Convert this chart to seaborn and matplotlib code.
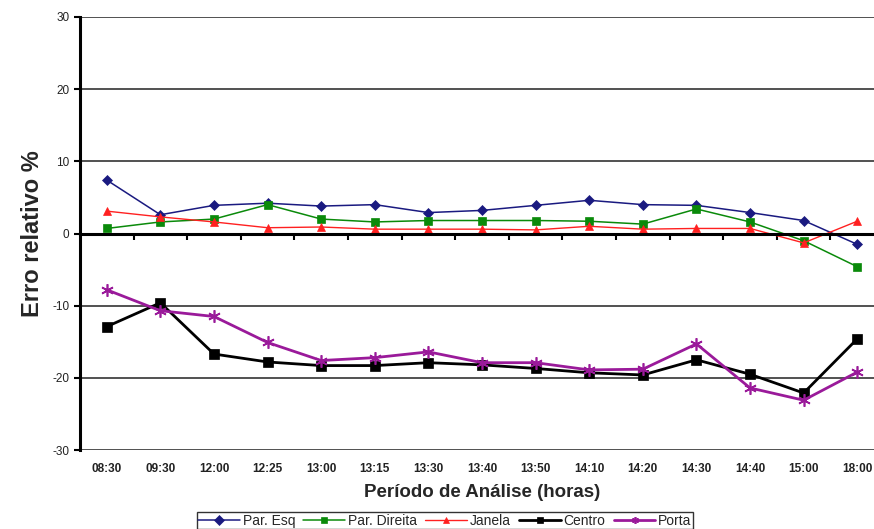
import numpy as np
import pandas as pd
import matplotlib
matplotlib.use("Agg")
import matplotlib.pyplot as plt
import seaborn as sns

# Données
horas = ["08:30", "09:30", "12:00", "12:25", "13:00", "13:15", "13:30", "13:40",
         "13:50", "14:10", "14:20", "14:30", "14:40", "15:00", "18:00"]
par_esq = [7.4, 2.6, 3.9, 4.2, 3.8, 4.0, 2.9, 3.2, 3.9, 4.6, 4.0, 3.9, 2.9, 1.8, -1.5]
par_direita = [0.7, 1.6, 2.0, 4.0, 2.0, 1.6, 1.8, 1.8, 1.8, 1.7, 1.3, 3.4, 1.6, -1.0, -4.6]
janela = [3.1, 2.3, 1.6, 0.8, 0.9, 0.6, 0.6, 0.6, 0.5, 1.0, 0.6, 0.7, 0.7, -1.3, 1.7]
centro = [-12.9, -9.6, -16.7, -17.8, -18.3, -18.3, -17.9, -18.2, -18.7, -19.3,
          -19.6, -17.5, -19.5, -22.1, -14.6]
porta = [-7.8, -10.7, -11.5, -15.1, -17.6, -17.2, -16.4, -17.9, -17.9, -18.9,
         -18.8, -15.3, -21.4, -23.1, -19.2]

series = ["Par. Esq", "Par. Direita", "Janela", "Centro", "Porta"]
valores = [par_esq, par_direita, janela, centro, porta]

# style de chaque série
cores = ["#1a1a80", "#0a8a0a", "#ff2020", "#000000", "#9a1a9a"]
marcadores = ["D", "s", "^", "s", (6, 2, 0)]
tam_marc = [5, 6, 6, 7, 9]
larguras = [1.1, 1.1, 1.0, 2.0, 2.0]

sns.set_style("white")
plt.rcParams['font.family'] = ['Liberation Sans', 'DejaVu Sans']
plt.rcParams['axes.unicode_minus'] = False

fig = plt.figure(figsize=(8.74, 5.29), dpi=100)
ax = fig.add_axes([0.0915, 0.1493, 0.92, 0.8186])

pos = np.arange(len(horas))
handles = []
for nome, vals, cor, mk, ms, lw in zip(series, valores, cores, marcadores, tam_marc, larguras):
    df = pd.DataFrame({"pos": pos, "valor": vals})
    sns.lineplot(data=df, x="pos", y="valor", ax=ax, color=cor, marker=mk,
                 markersize=ms, linewidth=lw, markeredgecolor=cor,
                 markeredgewidth=1.2 if mk == (6, 2, 0) else 0.5, label=nome, legend=False)
    handles.append(ax.lines[-1])

ax.set_xlim(-0.5, len(horas) - 0.5)
ax.set_ylim(-30, 30)
ax.set_yticks([-30, -20, -10, 0, 10, 20, 30])
ax.yaxis.grid(True, color="#333333", linewidth=1.2)
ax.set_axisbelow(True)

# axe x à zéro avec graduations entre catégories
ax.spines['bottom'].set_position(('data', 0))
ax.spines['bottom'].set_linewidth(2.2)
ax.spines['bottom'].set_color("black")
ax.set_xticks(pos[:-1] + 0.5)
ax.set_xticklabels([])
ax.tick_params(axis='x', direction='out', length=4, width=1.5, color="black", bottom=True)

ax.spines['left'].set_linewidth(2.2)
ax.spines['left'].set_color("black")
ax.spines['top'].set_visible(False)
ax.spines['right'].set_visible(False)
ax.tick_params(axis='y', direction='out', length=4, width=1.5, color="black", left=True,
               labelsize=8.5, labelcolor="#222222")

# étiquettes des heures en bas
sec = ax.secondary_xaxis('bottom')
sec.set_xticks(pos)
sec.set_xticklabels(horas, fontsize=8.5, fontweight='bold', color="#222222")
sec.tick_params(length=0, pad=9)
sec.spines['bottom'].set_visible(False)
sec.set_xlabel("Período de Análise (horas)", fontsize=13.5, fontweight='bold', labelpad=7)

ax.set_xlabel("")
ax.set_ylabel("Erro relativo %", fontsize=17, fontweight='bold', labelpad=6)

leg = fig.legend(handles=handles, labels=series, loc='lower center', ncol=5,
                 bbox_to_anchor=(0.509, 0.0), fontsize=10, frameon=True, fancybox=False,
                 handlelength=3.0, handletextpad=0.2, columnspacing=0.6,
                 borderpad=0.1, borderaxespad=0)
leg.get_frame().set_edgecolor("black")
leg.get_frame().set_linewidth(1.0)
for h in leg.legend_handles:
    h.set_markersize(5)

fig.savefig("out.png", dpi=100)
